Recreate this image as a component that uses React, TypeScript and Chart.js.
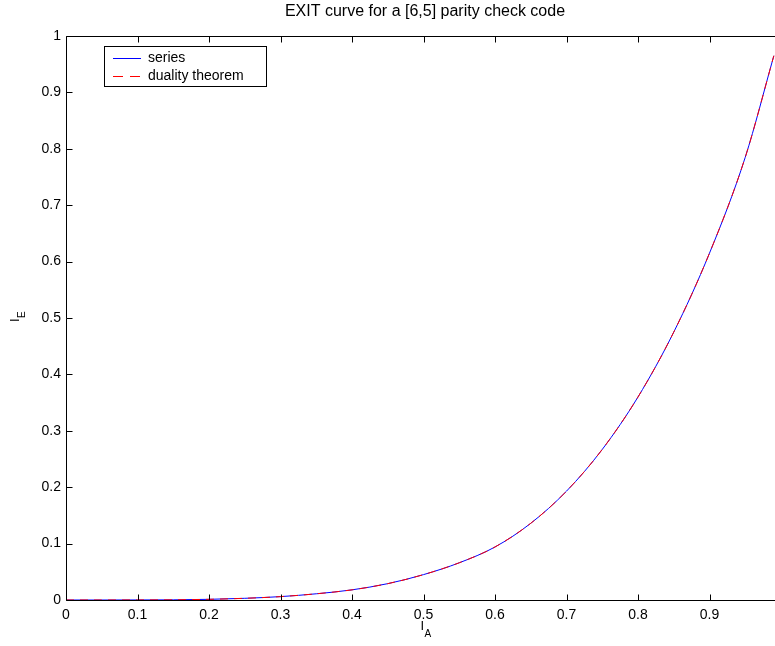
import React, { useEffect, useRef } from "react";
import { Chart, registerables } from "chart.js";

Chart.register(...registerables);

const TITLE = "EXIT curve for a [6,5] parity check code";
const X_TICKS = [0, 0.1, 0.2, 0.3, 0.4, 0.5, 0.6, 0.7, 0.8, 0.9];
const X_TICK_LABELS = ["0", "0.1", "0.2", "0.3", "0.4", "0.5", "0.6", "0.7", "0.8", "0.9"];
const Y_TICKS = [0, 0.1, 0.2, 0.3, 0.4, 0.5, 0.6, 0.7, 0.8, 0.9, 1];
const Y_TICK_LABELS = ["0", "0.1", "0.2", "0.3", "0.4", "0.5", "0.6", "0.7", "0.8", "0.9", "1"];

const I_A = [0, 0.05, 0.1, 0.15, 0.2, 0.25, 0.3, 0.35, 0.4, 0.45, 0.5, 0.55, 0.6, 0.65, 0.7, 0.75, 0.8, 0.85, 0.9, 0.95, 0.99];
const SERIES_IE = [0, 0, 0.0001, 0.0003, 0.0012, 0.003, 0.006, 0.011, 0.018, 0.029, 0.045, 0.066, 0.094, 0.136, 0.193, 0.267, 0.36, 0.475, 0.615, 0.785, 0.965];
const DUALITY_IE = [0, 0, 0.0001, 0.0003, 0.0012, 0.003, 0.006, 0.011, 0.018, 0.029, 0.045, 0.066, 0.094, 0.136, 0.193, 0.267, 0.36, 0.475, 0.615, 0.785, 0.965];

const LEGEND_LABELS = ["series", "duality theorem"];

const FONT = "'Liberation Sans', Arial, Helvetica, sans-serif";

const framePlugin = {
  id: "matlabFrame",
  afterDraw(chart: any) {
    const ctx = chart.ctx;
    const area = chart.chartArea;
    const xs = chart.scales.x;
    const ys = chart.scales.y;
    const L = Math.round(area.left) + 0.5;
    const R = Math.round(area.right) + 0.5;
    const T = Math.round(area.top) + 0.5;
    const B = Math.round(area.bottom) + 0.5;
    const tl = 6;
    ctx.save();
    ctx.strokeStyle = "#000";
    ctx.lineWidth = 1;
    ctx.beginPath();
    ctx.moveTo(L, T); ctx.lineTo(R, T); ctx.lineTo(R, B); ctx.lineTo(L, B); ctx.closePath();
    ctx.stroke();
    ctx.beginPath();
    X_TICKS.forEach((v) => {
      const px = Math.round(xs.getPixelForValue(v)) + 0.5;
      ctx.moveTo(px, B); ctx.lineTo(px, B - tl);
      ctx.moveTo(px, T); ctx.lineTo(px, T + tl);
    });
    Y_TICKS.forEach((v) => {
      const py = Math.round(ys.getPixelForValue(v)) + 0.5;
      ctx.moveTo(L, py); ctx.lineTo(L + tl, py);
      ctx.moveTo(R, py); ctx.lineTo(R - tl, py);
    });
    ctx.stroke();

    // title
    ctx.fillStyle = "#000";
    ctx.font = `16px ${FONT}`;
    ctx.textAlign = "center";
    ctx.textBaseline = "middle";
    ctx.fillText(TITLE, 425, 12);

    // x label I_A
    const xc = (area.left + area.right) / 2;
    ctx.font = `13px ${FONT}`;
    ctx.textAlign = "left";
    ctx.textBaseline = "alphabetic";
    ctx.fillText("I", xc - 3, 630);
    ctx.font = `10px ${FONT}`;
    ctx.fillText("A", xc + 1, 637);

    // y label I_E rotated
    const yc = (area.top + area.bottom) / 2;
    ctx.save();
    ctx.translate(19, yc + 4);
    ctx.rotate(-Math.PI / 2);
    ctx.font = `13px ${FONT}`;
    ctx.fillText("I", 0, 0);
    ctx.font = `10px ${FONT}`;
    ctx.fillText("E", 4, 6);
    ctx.restore();

    // legend
    const lx = 104.5, ly = 46.5, lw = 162, lh = 40;
    ctx.fillStyle = "#fff";
    ctx.fillRect(lx, ly, lw, lh);
    ctx.strokeStyle = "#000";
    ctx.strokeRect(lx, ly, lw, lh);
    const ds = chart.data.datasets;
    const rows = [58, 76];
    rows.forEach((ry, i) => {
      ctx.strokeStyle = ds[i].borderColor;
      ctx.setLineDash(ds[i].borderDash ? [10, 7] : []);
      ctx.beginPath();
      ctx.moveTo(113, ry + 0.5);
      ctx.lineTo(141, ry + 0.5);
      ctx.stroke();
      ctx.setLineDash([]);
      ctx.fillStyle = "#000";
      ctx.font = `14px ${FONT}`;
      ctx.textBaseline = "middle";
      ctx.textAlign = "left";
      ctx.fillText(LEGEND_LABELS[i], 148, ry);
    });
    ctx.restore();
  },
};

export default function App() {
  const ref = useRef<HTMLCanvasElement | null>(null);
  useEffect(() => {
    if (!ref.current) return;
    const chart = new Chart(ref.current, {
      type: "line",
      data: {
        datasets: [
          {
            label: LEGEND_LABELS[0],
            data: I_A.map((x, i) => ({ x, y: SERIES_IE[i] })),
            borderColor: "#0000ff",
            borderWidth: 1,
            pointRadius: 0,
            cubicInterpolationMode: "monotone",
            fill: false,
            order: 2,
          },
          {
            label: LEGEND_LABELS[1],
            data: I_A.map((x, i) => ({ x, y: DUALITY_IE[i] })),
            borderColor: "#ff0000",
            borderWidth: 1,
            borderDash: [8, 6],
            pointRadius: 0,
            cubicInterpolationMode: "monotone",
            fill: false,
            order: 1,
          },
        ],
      },
      options: {
        responsive: false,
        animation: false,
        layout: { padding: { top: 36, right: 1, left: 0, bottom: 0 } },
        plugins: { legend: { display: false }, title: { display: false }, tooltip: { enabled: false } },
        scales: {
          x: {
            type: "linear",
            min: 0,
            max: 1,
            grid: { display: false, drawTicks: false },
            border: { display: false },
            afterBuildTicks: (s: any) => { s.ticks = X_TICKS.map((v) => ({ value: v })); },
            afterFit: (s: any) => { s.height = 46; },
            ticks: {
              padding: 7,
              maxRotation: 0,
              autoSkip: false,
              color: "#000",
              font: { family: FONT, size: 14 },
              callback: (v: any) => { const i = X_TICKS.indexOf(Number(v)); return i >= 0 ? X_TICK_LABELS[i] : ""; },
            },
          },
          y: {
            type: "linear",
            min: 0,
            max: 1,
            grid: { display: false, drawTicks: false },
            border: { display: false },
            afterBuildTicks: (s: any) => { s.ticks = Y_TICKS.map((v) => ({ value: v })); },
            afterFit: (s: any) => { s.width = 66; },
            ticks: {
              padding: 5,
              autoSkip: false,
              color: "#000",
              font: { family: FONT, size: 14 },
              callback: (v: any) => { const i = Y_TICKS.indexOf(Number(v)); return i >= 0 ? Y_TICK_LABELS[i] : ""; },
            },
          },
        },
      },
      plugins: [framePlugin],
    } as any);
    return () => chart.destroy();
  }, []);
  return (
    <div style={{ position: "fixed", left: 0, top: 0, width: 775, height: 646, overflow: "hidden", background: "#fff" }}>
      <canvas ref={ref} width={782} height={646} style={{ display: "block", width: 782, height: 646 }} />
    </div>
  );
}
